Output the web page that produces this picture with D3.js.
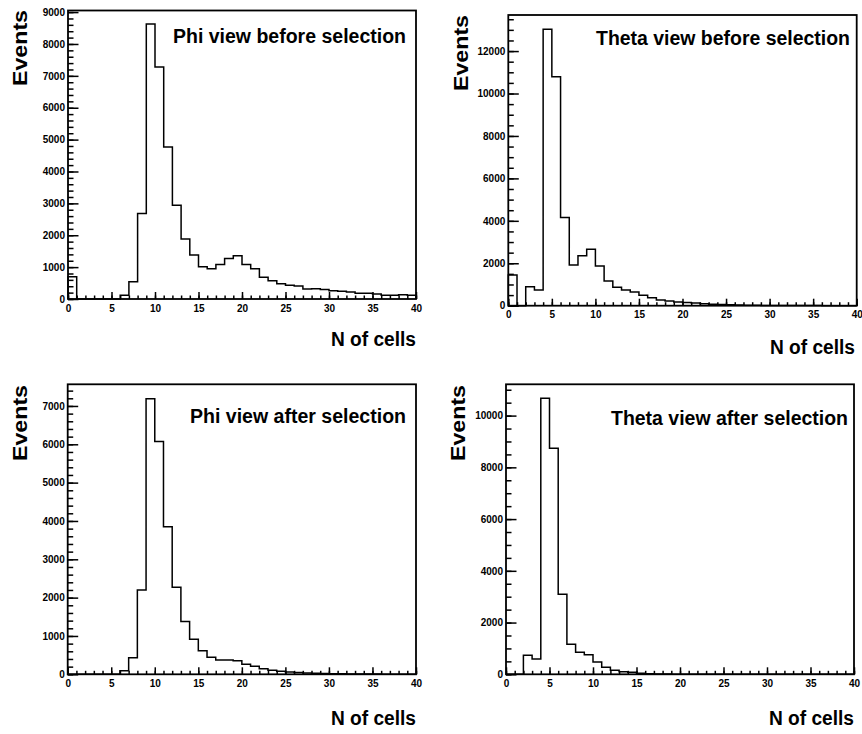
<!DOCTYPE html>
<html>
<head>
<meta charset="utf-8">
<script src="https://cdn.jsdelivr.net/npm/d3@7"></script>
<style>
  body { margin: 0; background: #fff; }
  text { font-family: 'Liberation Sans', Arial, Helvetica, sans-serif; font-weight: bold; fill: #000; }
</style>
</head>
<body>
<div class="chart-container"></div>
<script>
// data: 40 bins of width 1, "N of cells" from 0 to 40
const binLow = [0, 1, 2, 3, 4, 5, 6, 7, 8, 9, 10, 11, 12, 13, 14, 15, 16, 17, 18, 19,
    20, 21, 22, 23, 24, 25, 26, 27, 28, 29, 30, 31, 32, 33, 34, 35, 36, 37, 38, 39];
const binWidth = 1;

const phiBefore = [700, 0, 0, 0, 0, 0, 120, 540, 2680, 8630, 7280, 4770, 2940, 1880, 1380, 1010,
    950, 1085, 1270, 1360, 1085, 950, 680, 575, 480, 430, 410, 315, 325, 300,
    260, 240, 220, 180, 180, 160, 115, 115, 135, 115];
const thetaBefore = [1445, 0, 895, 740, 13025, 10790, 4160, 1915, 2355, 2655, 1870, 1160, 865, 740,
    645, 490, 380, 270, 220, 170, 155, 125, 95, 65, 60, 40, 32, 25, 20, 15,
    12, 10, 8, 6, 5, 4, 3, 3, 2, 2];
const phiAfter = [0, 0, 0, 0, 0, 0, 95, 435, 2200, 7190, 6070, 3850, 2270, 1375, 913, 617,
    443, 374, 374, 356, 260, 210, 148, 104, 78, 60, 45, 35, 28, 20,
    15, 12, 10, 8, 6, 5, 4, 3, 3, 2];
const thetaAfter = [0, 0, 735, 593, 10670, 8737, 3093, 1160, 850, 760, 477, 270, 155, 103, 77, 40,
    26, 15, 10, 6, 4, 3, 2, 2, 1, 1, 0, 0, 0, 0,
    0, 0, 0, 0, 0, 0, 0, 0, 0, 0];

// tick labels
const xTicks = [0, 5, 10, 15, 20, 25, 30, 35, 40];
const yTicksPhiBefore = [0, 1000, 2000, 3000, 4000, 5000, 6000, 7000, 8000, 9000];
const yTicksThetaBefore = [0, 2000, 4000, 6000, 8000, 10000, 12000];
const yTicksPhiAfter = [0, 1000, 2000, 3000, 4000, 5000, 6000, 7000];
const yTicksThetaAfter = [0, 2000, 4000, 6000, 8000, 10000];

const titles = ['Phi view before selection', 'Theta view before selection',
    'Phi view after selection', 'Theta view after selection'];
const xTitle = 'N of cells';
const yTitle = 'Events';

// layout of the four pads (pixels)
const pads = [
    { values: phiBefore, yTicks: yTicksPhiBefore, yMax: 9050, yMinor: 200,
      frame: { x0: 68, x1: 416, y0: 10.5, y1: 299 },
      title: { x: 406, y: 42.5, len: 233 }, xLab: { x: 416, y: 346 }, yLab: { x: 27.3, y: 10 } },
    { values: thetaBefore, yTicks: yTicksThetaBefore, yMax: 13700, yMinor: 500,
      frame: { x0: 508.3, x1: 856.7, y0: 15, y1: 305.7 },
      title: { x: 850, y: 44.5, len: 254 }, xLab: { x: 855, y: 354 }, yLab: { x: 468, y: 15 } },
    { values: phiAfter, yTicks: yTicksPhiAfter, yMax: 7565, yMinor: 200,
      frame: { x0: 67.7, x1: 416, y0: 384.3, y1: 674.3 },
      title: { x: 406, y: 422.7, len: 216 }, xLab: { x: 416, y: 725 }, yLab: { x: 26.7, y: 385 } },
    { values: thetaAfter, yTicks: yTicksThetaAfter, yMax: 11210, yMinor: 500,
      frame: { x0: 506, x1: 854, y0: 384.3, y1: 674.3 },
      title: { x: 848, y: 425, len: 237 }, xLab: { x: 854, y: 725 }, yLab: { x: 465, y: 385 } }
];

const svg = d3.select('.chart-container')
    .append('svg')
    .attr('width', 862)
    .attr('height', 734);

function drawPad(pad, i) {
    const f = pad.frame;

    const xScale = d3.scaleLinear().domain([0, 40]).range([f.x0, f.x1]);
    const yScale = d3.scaleLinear().domain([0, pad.yMax]).range([f.y1, f.y0]);

    const g = svg.append('g').attr('class', 'pad');

    // histogram outline: up from the base at the first edge, steps, down at the last edge
    const pts = [[0, 0]];
    binLow.forEach((lo, k) => {
        pts.push([lo, pad.values[k]]);
        pts.push([lo + binWidth, pad.values[k]]);
    });
    pts.push([binLow[binLow.length - 1] + binWidth, 0]);

    const line = d3.line()
        .x(d => xScale(d[0]))
        .y(d => yScale(d[1]));

    g.append('path')
        .attr('d', line(pts))
        .attr('fill', 'none')
        .attr('stroke', '#000')
        .attr('stroke-width', 1.5);

    // minor ticks (no labels)
    const yMinorTicks = d3.range(0, pad.yMax, pad.yMinor);
    g.append('g')
        .attr('transform', `translate(${f.x0},0)`)
        .call(d3.axisLeft(yScale).tickValues(yMinorTicks).tickSizeInner(-5.5).tickSizeOuter(0).tickFormat(''))
        .call(a => a.select('.domain').remove());

    g.append('g')
        .attr('transform', `translate(0,${f.y1})`)
        .call(d3.axisBottom(xScale).tickValues(d3.range(0, 41, 1)).tickSizeInner(-3.5).tickSizeOuter(0).tickFormat(''))
        .call(a => a.select('.domain').remove());

    // major ticks with labels
    const yAxis = g.append('g')
        .attr('transform', `translate(${f.x0},0)`)
        .call(d3.axisLeft(yScale).tickValues(pad.yTicks).tickSizeInner(-10.5).tickSizeOuter(0)
            .tickPadding(3).tickFormat(d3.format('d')))
        .call(a => a.select('.domain').remove());

    yAxis.selectAll('text')
        .attr('font-size', 10)
        .attr('font-family', null);

    const xAxis = g.append('g')
        .attr('transform', `translate(0,${f.y1})`)
        .call(d3.axisBottom(xScale).tickValues(xTicks).tickSizeInner(-7).tickSizeOuter(0)
            .tickFormat(d3.format('d')))
        .call(a => a.select('.domain').remove());

    xAxis.selectAll('text')
        .attr('font-size', 10)
        .attr('font-family', null)
        .attr('y', 12.7)
        .attr('dy', null);

    g.selectAll('.tick line')
        .attr('stroke', '#000')
        .attr('stroke-width', 1.5);

    // frame
    g.append('rect')
        .attr('x', f.x0)
        .attr('y', f.y0)
        .attr('width', f.x1 - f.x0)
        .attr('height', f.y1 - f.y0)
        .attr('fill', 'none')
        .attr('stroke', '#000')
        .attr('stroke-width', 1.8);

    // pad title
    g.append('text')
        .attr('x', pad.title.x)
        .attr('y', pad.title.y)
        .attr('text-anchor', 'end')
        .attr('font-size', 20)
        .attr('textLength', pad.title.len)
        .attr('lengthAdjust', 'spacingAndGlyphs')
        .text(titles[i]);

    // axis titles
    g.append('text')
        .attr('x', pad.xLab.x)
        .attr('y', pad.xLab.y)
        .attr('text-anchor', 'end')
        .attr('font-size', 20)
        .attr('textLength', 85)
        .attr('lengthAdjust', 'spacingAndGlyphs')
        .text(xTitle);

    g.append('text')
        .attr('transform', `translate(${pad.yLab.x},${pad.yLab.y}) rotate(-90)`)
        .attr('text-anchor', 'end')
        .attr('font-size', 20)
        .attr('textLength', 76)
        .attr('lengthAdjust', 'spacingAndGlyphs')
        .text(yTitle);
}

pads.forEach(drawPad);
</script>
</body>
</html>
